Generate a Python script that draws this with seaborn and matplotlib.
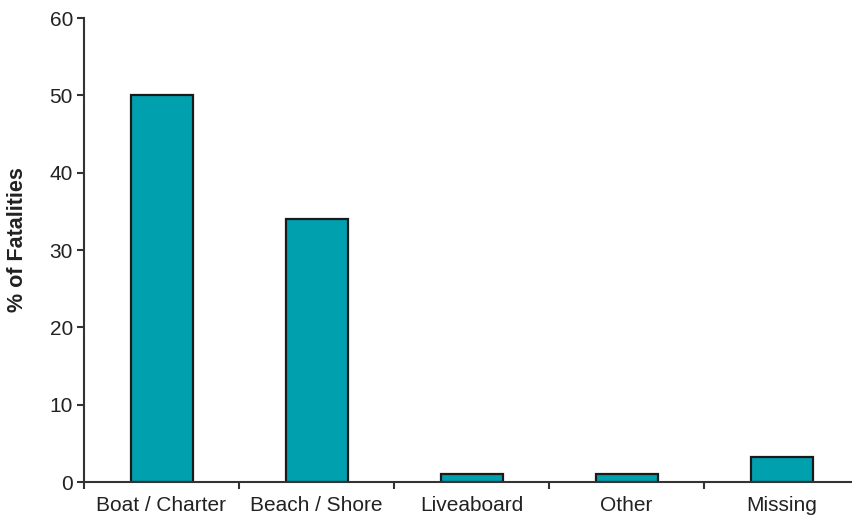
import matplotlib
matplotlib.use("Agg")
import matplotlib.pyplot as plt
import seaborn as sns
import pandas as pd

categories = ["Boat / Charter", "Beach / Shore", "Liveaboard", "Other", "Missing"]
values = [50, 34, 1, 1, 3.2]

df = pd.DataFrame({"category": categories, "value": values})

sns.set_style("white")
plt.rcParams["font.family"] = ["Liberation Sans", "DejaVu Sans"]

fig = plt.figure(figsize=(8.53, 5.15), dpi=100)
ax = fig.add_axes([84 / 853, 33 / 515, 775 / 853, 464 / 515])

sns.barplot(data=df, x="category", y="value", color="#00A0AF", width=0.4,
            edgecolor="#1a1a1a", linewidth=1.6, saturation=1, ax=ax)
ax.set_xlim(-0.5, 4.5)
ax.set_ylim(0, 60)
ax.set_yticks([0, 10, 20, 30, 40, 50, 60])
ax.set_xticks([-0.5, 0.5, 1.5, 2.5, 3.5, 4.5], minor=False)
ax.set_xticks([0, 1, 2, 3, 4], minor=True)
ax.set_xticklabels([], minor=False)
ax.set_xticklabels(categories, minor=True)
ax.tick_params(axis="x", which="major", bottom=True, direction="out", length=5, width=1.5, color="#333333")
ax.tick_params(axis="x", which="minor", bottom=True, length=0, labelsize=15, pad=10, labelcolor="#222222")
ax.tick_params(axis="y", left=True, direction="out", length=5, width=1.5, color="#333333",
               labelsize=15, labelcolor="#222222", pad=3)
for s in ["top", "right"]:
    ax.spines[s].set_visible(False)
for s in ["left", "bottom"]:
    ax.spines[s].set_color("#333333")
    ax.spines[s].set_linewidth(1.5)
ax.set_xlabel("")
ax.set_ylabel("")
fig.text(18 / 853, 1 - 240 / 515, "% of Fatalities", rotation=90, ha="center", va="center",
         fontsize=15.5, fontweight="bold", color="#222222")

fig.savefig("out.png", dpi=100)
